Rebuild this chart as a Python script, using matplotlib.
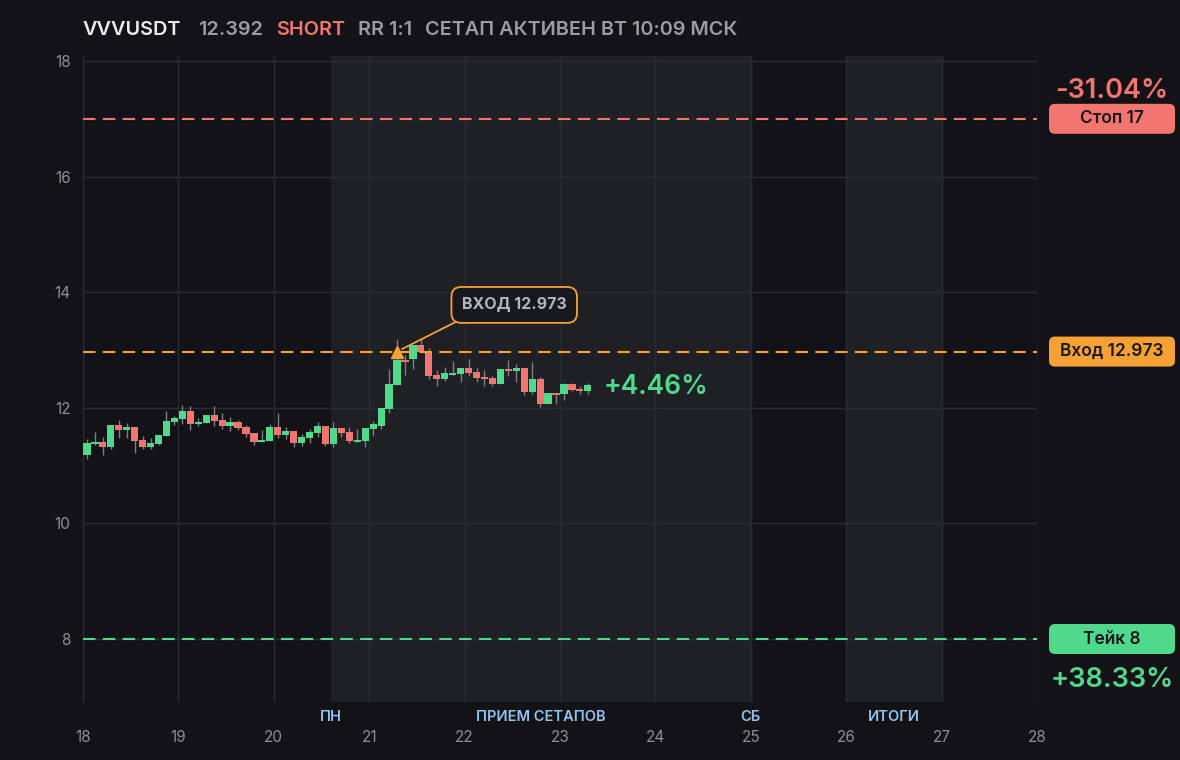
import matplotlib
matplotlib.use('Agg')
import matplotlib.pyplot as plt
import matplotlib.transforms as mtransforms
from matplotlib.patches import FancyBboxPatch

plt.rcParams['font.family'] = ['Inter', 'DejaVu Sans']

#########
# data
#########

symbol = 'VVVUSDT'
last_price = 12.392
side = 'SHORT'
rr_text = 'RR 1:1'
status_text = 'СЕТАП АКТИВЕН ВТ 10:09 МСК'

# 2-hour candles starting at day 18
candle_start = 18.0
candle_step = 1 / 12

opens = [11.18, 11.38, 11.40, 11.33, 11.70, 11.61, 11.67, 11.44, 11.32, 11.37,
         11.51, 11.75, 11.81, 11.94, 11.72, 11.74, 11.88, 11.79, 11.68, 11.75,
         11.67, 11.56, 11.41, 11.43, 11.67, 11.53, 11.60, 11.39, 11.48, 11.56,
         11.69, 11.37, 11.65, 11.58, 11.41, 11.43, 11.63, 11.68, 11.98, 12.39,
         12.83, 12.84, 13.09, 12.97, 12.57, 12.50, 12.57, 12.58, 12.69, 12.62,
         12.53, 12.52, 12.41, 12.67, 12.64, 12.69, 12.27, 12.50, 12.07, 12.26,
         12.24, 12.41, 12.33, 12.29]
highs = [11.46, 11.58, 11.49, 11.70, 11.79, 11.73, 11.67, 11.51, 11.48, 11.53,
         11.95, 11.86, 12.05, 12.03, 11.83, 11.88, 12.03, 11.91, 11.84, 11.79,
         11.70, 11.56, 11.61, 11.72, 11.91, 11.67, 11.60, 11.55, 11.63, 11.75,
         11.69, 11.75, 11.65, 11.67, 11.63, 11.65, 11.78, 11.99, 12.67, 13.19,
         12.91, 13.09, 13.19, 13.03, 12.65, 12.71, 12.81, 12.69, 12.84, 12.69,
         12.65, 12.55, 12.67, 12.83, 12.76, 12.69, 12.79, 12.53, 12.26, 12.26,
         12.43, 12.43, 12.38, 12.43]
lows = [11.11, 11.36, 11.18, 11.29, 11.47, 11.47, 11.21, 11.28, 11.29, 11.35,
        11.51, 11.71, 11.72, 11.62, 11.68, 11.74, 11.69, 11.64, 11.60, 11.62,
        11.50, 11.36, 11.41, 11.43, 11.48, 11.46, 11.32, 11.34, 11.39, 11.49,
        11.34, 11.32, 11.50, 11.39, 11.41, 11.33, 11.52, 11.63, 11.91, 12.39,
        12.57, 12.67, 12.97, 12.50, 12.38, 12.46, 12.57, 12.45, 12.55, 12.45,
        12.38, 12.38, 12.41, 12.55, 12.45, 12.22, 12.24, 12.01, 12.07, 12.07,
        12.13, 12.29, 12.24, 12.24]
closes = [11.39, 11.41, 11.33, 11.70, 11.61, 11.67, 11.43, 11.32, 11.39, 11.53,
          11.77, 11.82, 11.94, 11.72, 11.75, 11.88, 11.77, 11.68, 11.75, 11.65,
          11.55, 11.41, 11.44, 11.67, 11.53, 11.60, 11.39, 11.49, 11.58, 11.69,
          11.37, 11.65, 11.56, 11.43, 11.44, 11.65, 11.72, 11.99, 12.41, 12.83,
          12.80, 13.09, 12.97, 12.55, 12.50, 12.60, 12.60, 12.69, 12.60, 12.52,
          12.50, 12.41, 12.67, 12.64, 12.69, 12.27, 12.50, 12.07, 12.26, 12.22,
          12.41, 12.31, 12.29, 12.39]

entry_index = 39
entry_price = 12.973
stop_price = 17
take_price = 8
entry_box_text = 'ВХОД 12.973'
change_text = '+4.46%'

levels = [stop_price, entry_price, take_price]
level_labels = ['Стоп 17', 'Вход 12.973', 'Тейк 8']
level_pct = ['-31.04%', None, '+38.33%']

sessions = [(20.6, 25.0), (26.0, 27.0)]
day_labels = ['ПН', 'ПРИЕМ СЕТАПОВ', 'СБ', 'ИТОГИ']
day_label_x = [20.6, 22.8, 25.0, 26.5]

x_ticks = list(range(18, 29))
y_ticks = [8, 10, 12, 14, 16, 18]

#########
# style
#########

bg = '#131317'
shade = '#1f2024'
grid_c = '#2a2b31'
green = '#4fd98d'
red = '#f27570'
orange = '#f7a033'
grey = '#9a9ca4'
wick_c = '#7d7e84'

#########
# figure
#########

fig = plt.figure(figsize=(11.8, 7.6), dpi=100, facecolor=bg)
ax = fig.add_axes([83 / 1180, 58 / 760, 954 / 1180, 646 / 760])
ax.set_facecolor(bg)
ax.set_xlim(18, 28)
ax.set_ylim(6.91, 18.087)

for a, b in sessions:
    ax.axvspan(a, b, color=shade, zorder=0, lw=0)

ax.set_xticks(x_ticks)
ax.set_yticks(y_ticks)
ax.grid(True, color=grid_c, lw=1)
ax.set_axisbelow(True)
ax.tick_params(axis='x', length=0, pad=20, labelsize=11, labelcolor='#8b8e97')
ax.tick_params(axis='y', length=0, pad=9, labelsize=11, labelcolor='#8b8e97')
for s in ['top', 'right', 'bottom']:
    ax.spines[s].set_visible(False)
ax.spines['left'].set_color('#2e2f35')

# candles
xs = [candle_start + (i + 0.5) * candle_step for i in range(len(opens))]
colors = [green if c >= o else red for o, c in zip(opens, closes)]
ax.vlines(xs, lows, highs, color=wick_c, lw=1, zorder=2)
bottoms = [min(o, c) for o, c in zip(opens, closes)]
heights = [max(abs(c - o), 0.03) for o, c in zip(opens, closes)]
ax.bar(xs, heights, bottom=bottoms, width=candle_step * 0.9, color=colors, zorder=3, lw=0)

# level lines
level_colors = [red, orange, green]
for v, col in zip(levels, level_colors):
    ax.axhline(v, color=col, lw=1.5, dashes=(6, 3.5), zorder=4)

# entry marker + callout
ex = xs[entry_index]
ax.plot([ex], [entry_price], marker='^', color=orange, ms=9, zorder=6, clip_on=False)
ax.annotate(entry_box_text, xy=(ex, entry_price), xytext=(22.52, 13.78),
            ha='center', va='center', fontsize=11.5, color='#b4b6bc', weight='bold',
            bbox=dict(boxstyle='round,pad=0.65,rounding_size=0.6', fc='#18191d', ec=orange, lw=1.3),
            arrowprops=dict(arrowstyle='-', color=orange, lw=1.3, relpos=(0.12, 0.0),
                            shrinkA=0, shrinkB=4),
            zorder=7)

# change label next to last candle
ax.text(xs[-1] + 0.17, closes[-1] - 0.03, change_text, color=green, fontsize=19,
        weight='semibold', ha='left', va='center', zorder=6)

# day labels under axis
trans = mtransforms.blended_transform_factory(ax.transData, ax.transAxes)
for lx, lab in zip(day_label_x, day_labels):
    ax.text(lx, -0.0235, lab, transform=trans, ha='center', va='center',
            fontsize=10.5, color='#8fc6f4', weight='semibold', clip_on=False)

# right side price boxes
dpi = fig.dpi
box_w, box_h, box_cx = 126, 30, 1112
for v, lab, pct, col in zip(levels, level_labels, level_pct, level_colors):
    yc = ax.transData.transform((18, v))[1]
    patch = FancyBboxPatch(((box_cx - box_w / 2) / dpi, (yc - box_h / 2) / dpi),
                           box_w / dpi, box_h / dpi,
                           boxstyle='round,pad=0,rounding_size=0.06',
                           transform=fig.dpi_scale_trans, fc=col, ec='none')
    fig.add_artist(patch)
    fig.text(box_cx / 1180, yc / 760, lab, ha='center', va='center', fontsize=12.5,
             color='#18181c', weight='semibold')
    if pct is not None:
        off = 28 if v > entry_price else -41
        fig.text(box_cx / 1180, (yc + off) / 760, pct, ha='center', va='center',
                 fontsize=19.5, color=col, weight='semibold')

# title line
ty = 1 - 35 / 760
title_parts = [(symbol, '#ececee', 83), (f'{last_price:.3f}', grey, 198), (side, red, 276),
               (rr_text, grey, 358), (status_text, grey, 425)]
for txt, col, px in title_parts:
    fig.text(px / 1180, ty, txt, color=col, fontsize=14.3, weight='semibold', va='baseline')

fig.savefig('out.png', dpi=100, facecolor=bg)
